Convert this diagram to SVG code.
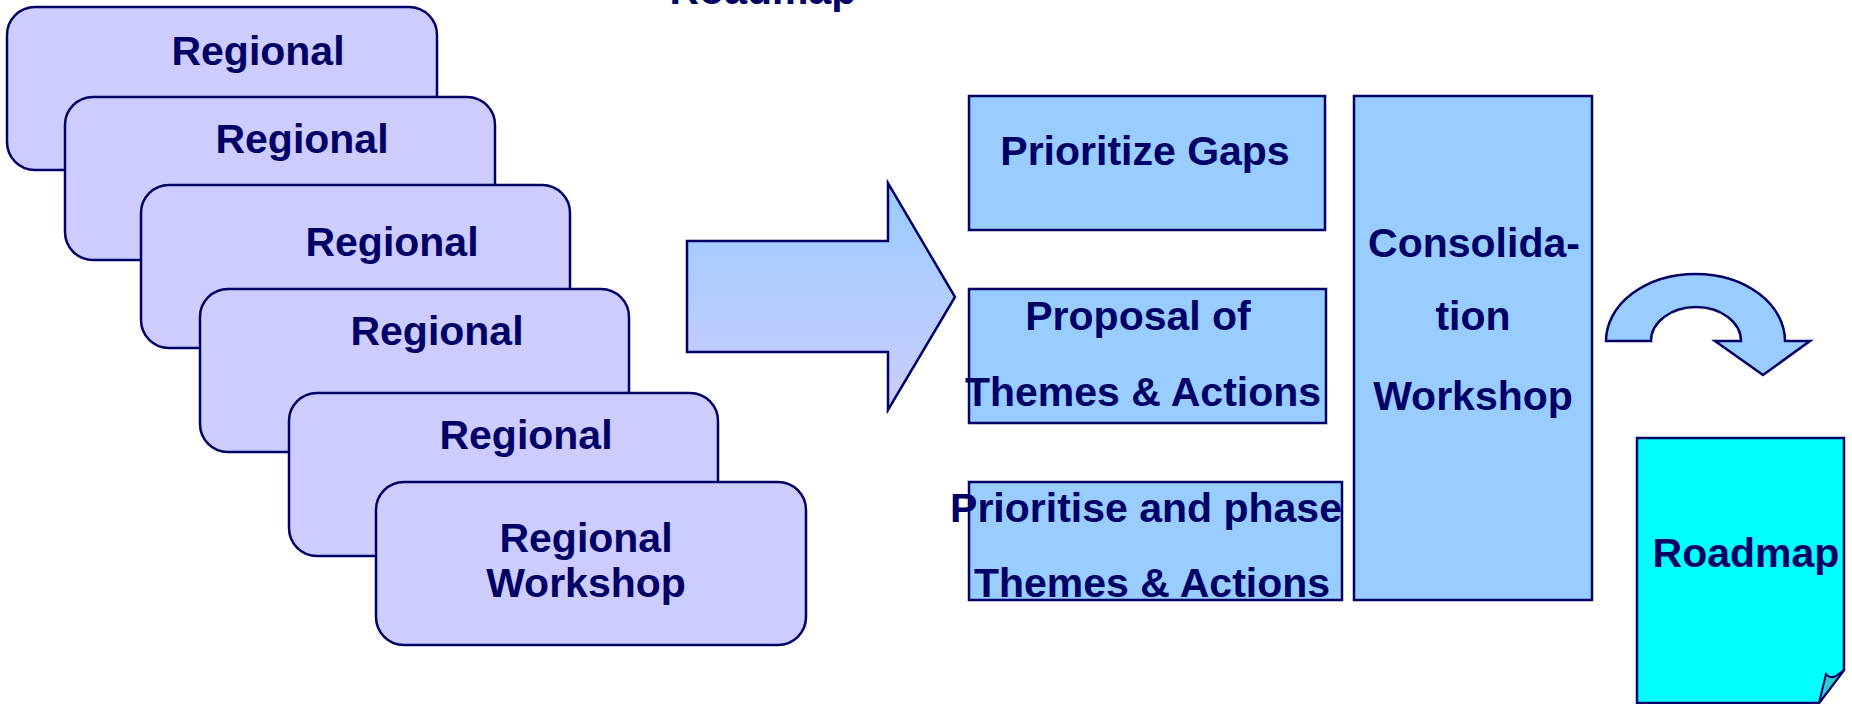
<svg xmlns="http://www.w3.org/2000/svg" width="1852" height="704" viewBox="0 0 1852 704">
<defs>
<linearGradient id="arrowGrad" x1="0" y1="0" x2="0" y2="1">
<stop offset="0" stop-color="#99CCFF"/>
<stop offset="1" stop-color="#CCCCFF"/>
</linearGradient>
<style>
.rb{fill:#CCCCFF;stroke:#000066;stroke-width:2.5}
.bx{fill:#99CCFF;stroke:#000066;stroke-width:2.5}
.t{font-family:"Liberation Sans",Arial,sans-serif;font-weight:bold;font-size:41px;fill:#000066;text-anchor:middle}
</style>
</defs>
<rect width="1852" height="704" fill="#FFFFFF"/>
<text class="t" x="763" y="4">Roadmap</text>
<g id="regional1"><rect class="rb" x="7" y="7" width="430" height="163" rx="28"/><text class="t" x="258" y="65">Regional</text></g>
<g id="regional2"><rect class="rb" x="65" y="97" width="430" height="163" rx="28"/><text class="t" x="302" y="153">Regional</text></g>
<g id="regional3"><rect class="rb" x="141" y="185" width="429" height="163" rx="28"/><text class="t" x="392" y="256">Regional</text></g>
<g id="regional4"><rect class="rb" x="200" y="289" width="429" height="163" rx="28"/><text class="t" x="437" y="345">Regional</text></g>
<g id="regional5"><rect class="rb" x="289" y="393" width="429" height="163" rx="28"/><text class="t" x="526" y="449">Regional</text></g>
<g id="regional6"><rect class="rb" x="376" y="482" width="430" height="163" rx="28"/><text class="t" x="586" y="552">Regional</text><text class="t" x="586" y="597">Workshop</text></g>
<g id="connectors">
<path d="M687,241 L888,241 L888,183 L955,297 L888,410 L888,352 L687,352 Z" fill="url(#arrowGrad)" stroke="#000066" stroke-width="2.5"/>
<path d="M1606,341 A89.5,67 0 0 1 1785,341 L1810,341 L1763,375 L1715,341 L1741,341 A45,34 0 0 0 1651,341 Z" fill="#99CCFF" stroke="#000066" stroke-width="2.5"/>
</g>
<g id="prioritizeGaps"><rect class="bx" x="969" y="96" width="356" height="134"/><text class="t" x="1145" y="165">Prioritize Gaps</text></g>
<g id="proposal"><rect class="bx" x="969" y="289" width="357" height="134"/><text class="t" x="1138" y="330">Proposal of</text><text class="t" x="1143" y="406">Themes &amp; Actions</text></g>
<g id="prioritise"><rect class="bx" x="969" y="482" width="373" height="118"/><text class="t" x="1146" y="522">Prioritise and phase</text><text class="t" x="1152" y="597">Themes &amp; Actions</text></g>
<g id="consolidation"><rect class="bx" x="1354" y="96" width="238" height="504"/><text class="t" x="1474" y="257">Consolida-</text><text class="t" x="1473" y="330">tion</text><text class="t" x="1473" y="410">Workshop</text></g>
<g id="roadmap">
<path d="M1637,438 L1844,438 L1844,670 L1819,703 L1637,703 Z" fill="#00FFFF" stroke="#000066" stroke-width="2.5"/>
<path d="M1819,703 L1826,674 Q1830,679 1836,676 L1844,670 Z" fill="#33CCCC" stroke="#000066" stroke-width="2"/>
<text class="t" x="1746" y="567">Roadmap</text>
</g>
</svg>
